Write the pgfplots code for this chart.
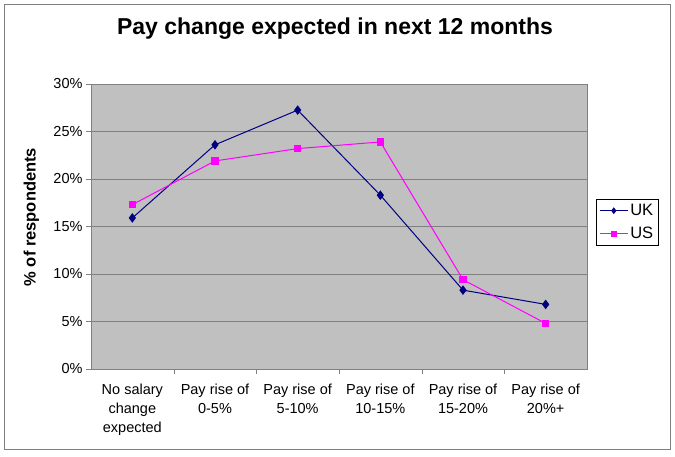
\documentclass[border=0pt]{standalone}
\usepackage{pgfplots}
\pgfplotsset{compat=1.18}
\usepackage{fontspec}
\setmainfont{Liberation Sans}
\definecolor{ukblue}{HTML}{000080}
\definecolor{usmag}{HTML}{FF00FF}
\definecolor{plotbg}{HTML}{C0C0C0}
\definecolor{gridc}{HTML}{808080}
\begin{document}
\begin{tikzpicture}[x=1pt,y=1pt]
\path[use as bounding box, fill=white] (0,0) rectangle (675,457);
\draw[gridc, line width=1pt] (4.5,7) rectangle (670,452.5);
\begin{axis}[
  at={(91pt,88pt)}, anchor=south west,
  scale only axis, width=496pt, height=285pt,
  xmin=-0.5, xmax=5.5, ymin=0, ymax=30,
  axis background/.style={fill=plotbg},
  axis line style={gridc},
  xtick={0,...,5},
  xticklabels={{No salary\\change\\expected},{Pay rise of\\0-5\%},{Pay rise of\\5-10\%},{Pay rise of\\10-15\%},{Pay rise of\\15-20\%},{Pay rise of\\20\%+}},
  x tick label style={align=center, font=\fontsize{14.5}{19}\selectfont, yshift=-6pt},
  major x tick style={draw=none},
  minor xtick={0.5,1.5,2.5,3.5,4.5},
  minor tick length=5pt,
  minor x tick style={gridc},
  ytick={0,5,...,30},
  yticklabel={\pgfmathprintnumber{\tick}\%},
  y tick label style={font=\fontsize{14.5}{17}\selectfont},
  /pgf/number format/assume math mode=true,
  ytick pos=left, xtick pos=bottom,
  tick align=outside, major tick length=5pt,
  y tick style={gridc},
  ymajorgrids, grid style={gridc, line width=0.8pt},
  ylabel={\bfseries \% of respondents},
  ylabel style={at={(axis description cs:-0.12,0.533)}, anchor=center, font=\fontsize{16.5}{18}\selectfont},
  title={\bfseries Pay change expected in next 12 months},
  title style={at={(axis description cs:0.492,1.172)}, anchor=center, font=\fontsize{23}{26}\selectfont},
  legend style={at={(axis description cs:1.0181,0.5965)}, anchor=north west, draw=black, line width=0.6pt, font=\fontsize{16.5}{18}\selectfont, inner xsep=3pt, inner ysep=3pt, row sep=6pt, legend cell align=left},
  legend image code/.code={\draw[mark repeat=2,mark phase=2,#1, mark size=2.6pt] plot coordinates {(0pt,0pt) (14pt,0pt) (28pt,0pt)};},
  clip=false,
]
\addplot[ukblue, line width=1pt, mark=diamond*, mark size=4pt, mark options={solid}] coordinates {
 (0,15.9) (1,23.6) (2,27.25) (3,18.3) (4,8.3) (5,6.8)};
\addlegendentry{UK}
\addplot[usmag, line width=1pt, mark=square*, mark size=3.3pt, mark options={solid}] coordinates {
 (0,17.3) (1,21.9) (2,23.2) (3,23.9) (4,9.4) (5,4.8)};
\addlegendentry{US}
\end{axis}
\end{tikzpicture}
\end{document}
